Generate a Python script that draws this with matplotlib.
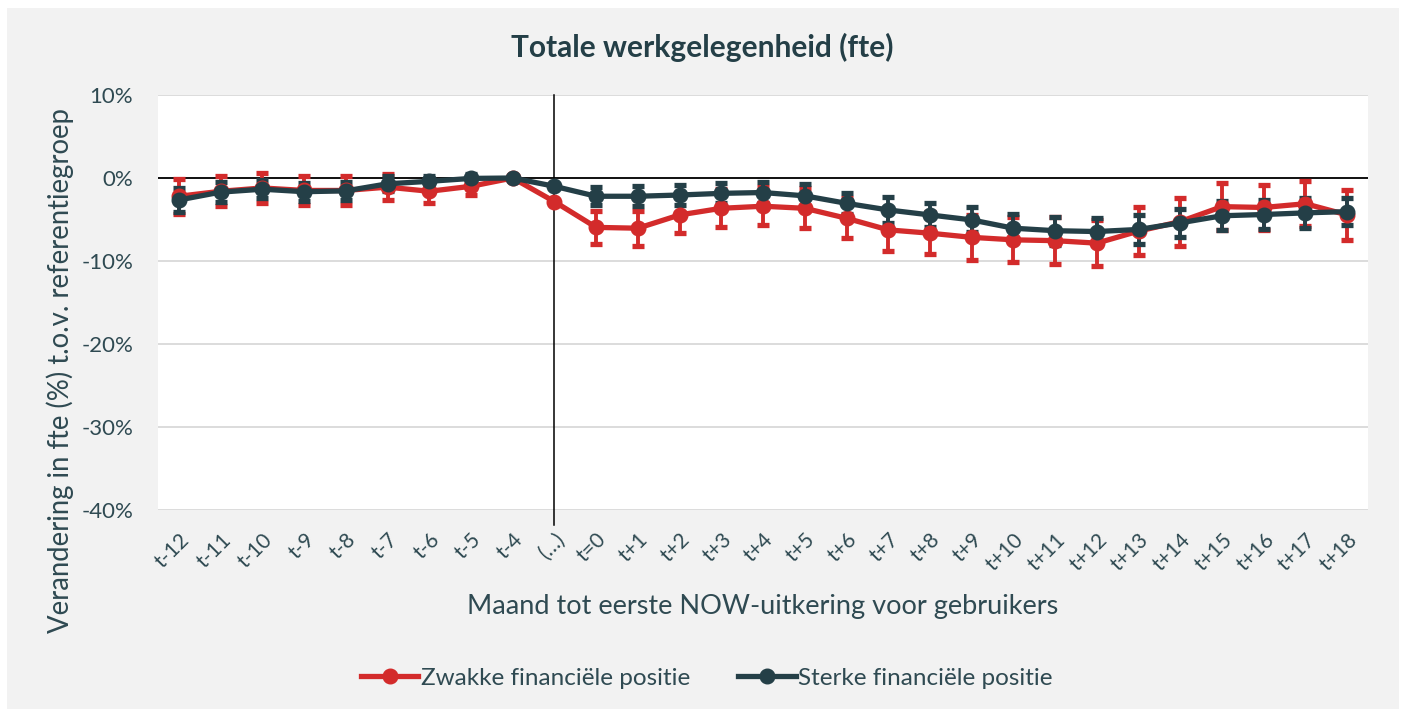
import matplotlib
matplotlib.use("Agg")
import matplotlib.pyplot as plt
from matplotlib.patches import Rectangle
from matplotlib.lines import Line2D
from matplotlib.ticker import FuncFormatter
import matplotlib.transforms as mtransforms

plt.rcParams['font.family'] = ['Lato', 'DejaVu Sans']

categories = ["t-12", "t-11", "t-10", "t-9", "t-8", "t-7", "t-6", "t-5", "t-4", "(…)",
              "t=0", "t+1", "t+2", "t+3", "t+4", "t+5", "t+6", "t+7", "t+8", "t+9",
              "t+10", "t+11", "t+12", "t+13", "t+14", "t+15", "t+16", "t+17", "t+18"]

# change in fte (%) vs reference group, with half-width of the error bar
zwak = [-2.2, -1.6, -1.2, -1.5, -1.5, -1.1, -1.6, -1.0, 0.0, -2.85,
        -5.95, -6.05, -4.45, -3.65, -3.4, -3.65, -4.85, -6.25, -6.65, -7.15,
        -7.45, -7.55, -7.85, -6.4, -5.25, -3.45, -3.55, -3.1, -4.45]
zwak_err = [2.1, 1.8, 1.8, 1.7, 1.7, 1.6, 1.4, 1.1, 0.0, 0.0,
            2.0, 2.1, 2.2, 2.3, 2.3, 2.4, 2.4, 2.5, 2.5, 2.7,
            2.7, 2.8, 2.8, 2.9, 2.9, 2.8, 2.7, 2.7, 3.0]

sterk = [-2.65, -1.7, -1.35, -1.65, -1.55, -0.7, -0.4, -0.05, 0.0, -1.0,
         -2.2, -2.2, -2.05, -1.85, -1.75, -2.15, -3.05, -3.85, -4.45, -5.05,
         -6.05, -6.35, -6.45, -6.2, -5.4, -4.55, -4.4, -4.2, -4.05]
sterk_err = [1.4, 1.2, 1.1, 1.1, 1.1, 0.9, 0.7, 0.5, 0.0, 0.0,
             1.1, 1.2, 1.2, 1.2, 1.3, 1.4, 1.3, 1.6, 1.4, 1.5,
             1.7, 1.7, 1.6, 1.8, 1.7, 1.75, 1.75, 1.8, 1.6]

labels = ["Zwakke financiële positie", "Sterke financiële positie"]

RED = "#d32b2b"
DARK = "#243f47"
TEXT = "#2f4a52"

fig = plt.figure(figsize=(14.05, 7.09), dpi=100, facecolor="white")
fig.patches.append(Rectangle((7 / 1405, 0), 1392 / 1405, 701 / 709,
                             transform=fig.transFigure, facecolor="#f2f2f2",
                             edgecolor="none", zorder=-10))
ax = fig.add_axes([0.1125, 0.2807, 0.8612, 0.5853])
ax.set_facecolor("white")

x = list(range(len(categories)))
handles = []
for vals, errs, col, lab in [(zwak, zwak_err, RED, labels[0]),
                             (sterk, sterk_err, DARK, labels[1])]:
    ax.errorbar(x, vals, yerr=errs, color=col, lw=3.8, marker="o", ms=10.5,
                elinewidth=2.8, capsize=4.2, capthick=3.8, zorder=3)
    handles.append(Line2D([], [], color=col, lw=3.8, marker="o", ms=10.5,
                          label=lab))

ax.set_xlim(-0.5, len(categories) - 0.5)
ax.set_ylim(-40, 10)
ax.set_yticks([10, 0, -10, -20, -30, -40])
ax.yaxis.set_major_formatter(FuncFormatter(lambda v, p: f"{v:.0f}%"))
ax.grid(axis="y", color="#d9d9d9", lw=1.3)
ax.set_axisbelow(True)
ax.axhline(0, color="black", lw=1.3, zorder=2)

# vertical marker at the break in the time axis
trans = mtransforms.blended_transform_factory(ax.transData, ax.transAxes)
ax.plot([9, 9], [-0.035, 1], color="black", lw=1.1, transform=trans,
        clip_on=False, zorder=2)

for s in ax.spines.values():
    s.set_visible(False)

ax.set_xticks(x)
ax.set_xticklabels(categories, rotation=45, ha="right", va="top",
                   rotation_mode="anchor")
ax.tick_params(axis="x", length=0, pad=14, labelsize=15, labelcolor=TEXT)
ax.tick_params(axis="y", length=0, pad=18, labelsize=16, labelcolor=TEXT)

ax.set_xlabel("Maand tot eerste NOW-uitkering voor gebruikers", fontsize=19.5,
              color=TEXT, labelpad=14)
ax.set_ylabel("Verandering in fte (%) t.o.v. referentiegroep", fontsize=19.8,
              color=TEXT, va="center")
ax.yaxis.set_label_coords(-0.081, 0.337)
fig.text(0.5, 1 - 47 / 709, "Totale werkgelegenheid (fte)", ha="center",
         va="center", fontsize=21.5, fontweight="bold", color=DARK)

leg = fig.legend(handles=handles, loc="center",
                 bbox_to_anchor=(0.503, 1 - 678 / 709), ncol=2,
                 frameon=False, fontsize=17.5, handlelength=2.35,
                 columnspacing=2.0, handletextpad=0.1)
for t in leg.get_texts():
    t.set_color(TEXT)

fig.savefig("out.png", dpi=100, facecolor=fig.get_facecolor())
